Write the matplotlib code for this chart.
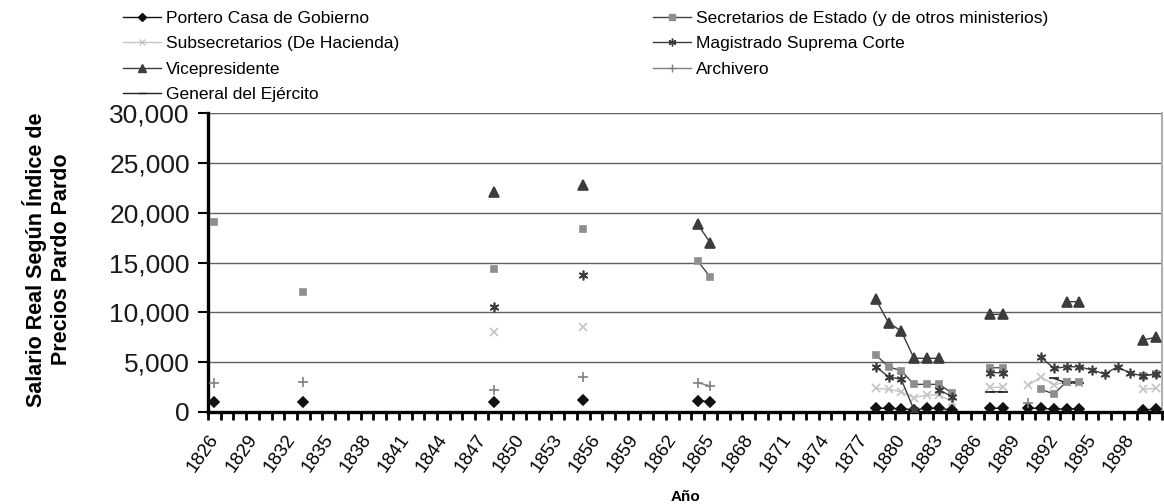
import numpy as np
import matplotlib
matplotlib.use('Agg')
import matplotlib.pyplot as plt
from matplotlib.ticker import FuncFormatter
from matplotlib.lines import Line2D
import matplotlib.transforms as mtransforms

plt.rcParams['font.family'] = ['Liberation Sans', 'DejaVu Sans']

# Categorias del eje X (un año por categoría)
years = list(range(1826, 1901))

# Series (años con dato y valores)
portero_years = [1826, 1833, 1848, 1855, 1864, 1865, 1878, 1879, 1880, 1881, 1882, 1883, 1884,
                 1887, 1888, 1890, 1891, 1892, 1893, 1894, 1899, 1900]
portero_vals = [950, 1010, 945, 1180, 1110, 1010, 350, 340, 300, 200, 330, 330, 170,
                340, 340, 350, 340, 250, 280, 300, 180, 250]

secretarios_years = [1826, 1833, 1848, 1855, 1864, 1865, 1878, 1879, 1880, 1881, 1882, 1883, 1884,
                     1887, 1888, 1891, 1892, 1893, 1894, 1899, 1900]
secretarios_vals = [19100, 12030, 14310, 18370, 15150, 13510, 5700, 4520, 4120, 2750, 2750, 2750, 1850,
                    4420, 4420, 2250, 1780, 3020, 3020, 3620, 3790]

subsec_years = [1848, 1855, 1878, 1879, 1880, 1881, 1882, 1883, 1884, 1887, 1888,
                1890, 1891, 1892, 1893, 1894, 1899, 1900]
subsec_vals = [8045, 8550, 2350, 2250, 2010, 1410, 1680, 1680, 1010, 2450, 2450,
               2680, 3520, 2680, 3020, 2850, 2250, 2350]

magistrado_years = [1848, 1855, 1878, 1879, 1880, 1881, 1883, 1884, 1887, 1888,
                    1891, 1892, 1893, 1894, 1895, 1896, 1897, 1898, 1899, 1900]
magistrado_vals = [10560, 13740, 4520, 3520, 3250, 200, 2180, 1510, 3920, 3920,
                   5470, 4360, 4520, 4520, 4190, 3790, 4520, 3860, 3620, 3790]

vice_years = [1848, 1855, 1864, 1865, 1878, 1879, 1880, 1881, 1882, 1883,
              1887, 1888, 1893, 1894, 1899, 1900]
vice_vals = [22120, 22790, 18850, 16950, 11300, 8950, 8110, 5370, 5370, 5370,
             9790, 9790, 11060, 11060, 7210, 7480]

archivero_years = [1826, 1833, 1848, 1855, 1864, 1865, 1890]
archivero_vals = [2850, 3020, 2180, 3460, 2920, 2580, 900]

general_years = [1887, 1888, 1892, 1893, 1894]
general_vals = [2000, 2000, 3350, 2900, 2900]


def full_series(ys, vs):
    arr = np.full(len(years), np.nan)
    for y, v in zip(ys, vs):
        arr[years.index(y)] = v
    return arr


fig = plt.figure(figsize=(11.64, 5.04), dpi=100)
ax = fig.add_axes([0.1787, 0.1831, 0.8196, 0.5921])
x = np.arange(len(years))

# (etiqueta, años, valores, marcador, tamaño, color marcador, color línea)
series = [
    ('Portero Casa de Gobierno', portero_years, portero_vals, 'D', 5, '#111111', '#111111'),
    ('Subsecretarios (De Hacienda)', subsec_years, subsec_vals, 'x', 6, '#c4c4c4', '#c4c4c4'),
    ('Vicepresidente', vice_years, vice_vals, '^', 7, '#3c3c3c', '#3c3c3c'),
    ('General del Ejército', general_years, general_vals, '_', 7, '#222222', '#222222'),
    ('Secretarios de Estado (y de otros ministerios)', secretarios_years, secretarios_vals, 's', 5, '#8e8e8e', '#444444'),
    ('Magistrado Suprema Corte', magistrado_years, magistrado_vals, (6, 2, 0), 7, '#3c3c3c', '#3c3c3c'),
    ('Archivero', archivero_years, archivero_vals, '+', 7, '#808080', '#808080'),
]

handles = []
for label, ys, vs, mk, ms, mc, lc in series:
    vals = full_series(ys, vs)
    ax.plot(x, vals, color=lc, linewidth=1.0, marker=mk, markersize=ms,
            markerfacecolor=mc, markeredgecolor=mc, markeredgewidth=1.2, zorder=3)
    handles.append(Line2D([0], [0], color=lc, linewidth=1.0, marker=mk, markersize=ms * 0.8,
                          markerfacecolor=mc, markeredgecolor=mc, markeredgewidth=1.0, label=label))

ax.set_xlim(-0.5, len(years) - 0.5)
ax.set_ylim(0, 30000)
ax.set_yticks(np.arange(0, 30001, 5000))
ax.yaxis.set_major_formatter(FuncFormatter(lambda v, p: f'{int(v):,}'))
ax.yaxis.grid(True, color='#606060', linewidth=1.0)
ax.set_axisbelow(True)

# marcas entre categorías y etiquetas cada 3 años
ax.set_xticks(np.arange(-0.5, len(years), 1))
ax.set_xticklabels([])
lab_pos = x[::3]
ax.set_xticks(lab_pos, minor=True)
ax.set_xticklabels([str(years[i]) for i in lab_pos], minor=True, rotation=55,
                   ha='right', va='top', rotation_mode='anchor', fontsize=13.5)
ax.tick_params(axis='x', which='major', length=6, width=2, direction='out', color='black')
ax.tick_params(axis='x', which='minor', length=0, pad=14)
ax.tick_params(axis='y', length=7, width=1.5, direction='out', labelsize=19, pad=6,
               labelcolor='#1a1a1a')

offset = mtransforms.ScaledTranslation(-6 / 100, 0, fig.dpi_scale_trans)
for lbl in ax.get_xticklabels(minor=True):
    lbl.set_transform(lbl.get_transform() + offset)

for s in ['left', 'bottom']:
    ax.spines[s].set_linewidth(2.4)
    ax.spines[s].set_color('black')
ax.spines['top'].set_visible(False)
ax.spines['right'].set_color('#b0b0b0')
ax.spines['right'].set_linewidth(1.5)

ax.set_xlabel('Año', fontweight='bold', fontsize=11, labelpad=11)
fig.text(0.040, 0.485, 'Salario Real Según Índice de\nPrecios Pardo Pardo', rotation=90,
         ha='center', va='center', fontsize=15.5, fontweight='bold', linespacing=1.25)

leg_kw = dict(frameon=False, fontsize=12.5, handlelength=2.2, handletextpad=0.3,
              labelspacing=0.58, borderpad=0, borderaxespad=0, loc='upper left')
fig.legend(handles=handles[:4], bbox_to_anchor=(123 / 1164, 1 - 11 / 504), **leg_kw)
fig.legend(handles=handles[4:], bbox_to_anchor=(653 / 1164, 1 - 11 / 504), **leg_kw)

fig.savefig('out.png', dpi=100)
